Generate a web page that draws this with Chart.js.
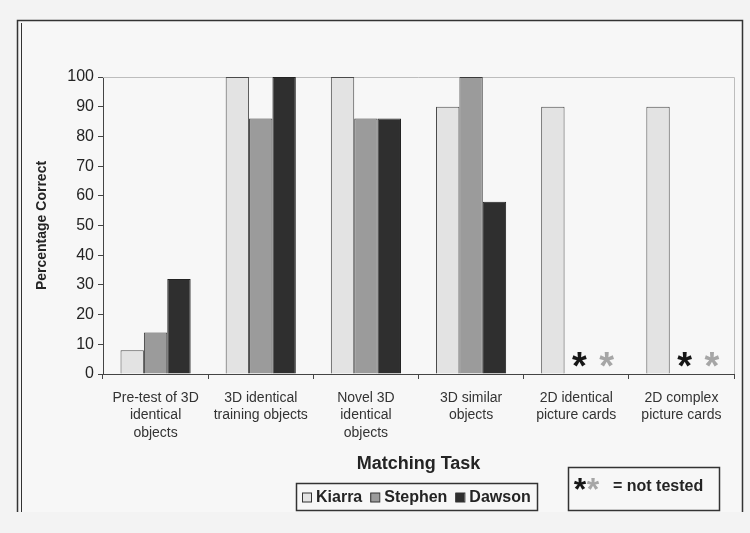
<!DOCTYPE html>
<html>
<head>
<meta charset="utf-8">
<script src="https://cdn.jsdelivr.net/npm/chart.js@4.4.1/dist/chart.umd.min.js"></script>
<style>
  html, body { margin: 0; padding: 0; background: #f3f3f3; }
  #wrap { position: relative; width: 750px; height: 533px; }
  canvas { display: block; }
</style>
</head>
<body>
<div id="wrap"><canvas id="c" width="750" height="533"></canvas></div>
<script>
// Matching tasks (multi-line category labels)
const tasks = [
  ["Pre-test of 3D", "identical", "objects"],
  ["3D identical", "training objects"],
  ["Novel 3D", "identical", "objects"],
  ["3D similar", "objects"],
  ["2D identical", "picture cards"],
  ["2D complex", "picture cards"]
];

// Percentage correct per child (null = not tested)
const kiarra  = [8, 100, 100, 90, 90, 90];
const stephen = [14, 86, 86, 100, null, null];
const dawson  = [32, 100, 86, 58, null, null];

// Tasks where Stephen and Dawson were not tested
const notTested = [false, false, false, false, true, true];

// Y axis ticks
const yTicks = [0, 10, 20, 30, 40, 50, 60, 70, 80, 90, 100];

const FONT = "Arial, 'Liberation Sans', sans-serif";
const INK = '#242424';

// page frame, plot border, asterisks and the two legend boxes
const decor = {
  id: 'decor',
  beforeDraw(chart) {
    const ctx = chart.ctx;
    ctx.save();
    ctx.fillStyle = '#f7f7f7';
    ctx.fillRect(20, 21, 721, 491);
    ctx.strokeStyle = '#333';
    ctx.lineWidth = 1.5;
    ctx.beginPath();
    ctx.moveTo(17.5, 512); ctx.lineTo(17.5, 20.5); ctx.lineTo(742.5, 20.5); ctx.lineTo(742.5, 512);
    ctx.stroke();
    ctx.lineWidth = 1;
    ctx.beginPath();
    ctx.moveTo(21.5, 512); ctx.lineTo(21.5, 23);
    ctx.stroke();
    ctx.restore();
  },
  beforeDatasetsDraw(chart) {
    const {ctx, chartArea: a} = chart;
    ctx.save();
    ctx.strokeStyle = '#bdbdbd';
    ctx.lineWidth = 1;
    ctx.beginPath();
    ctx.moveTo(a.left, a.top + 0.5); ctx.lineTo(a.right + 0.5, a.top + 0.5); ctx.lineTo(a.right + 0.5, a.bottom);
    ctx.stroke();
    ctx.restore();
  },
  afterDatasetsDraw(chart) {
    const {ctx, scales} = chart;
    const xs = scales.x, ys = scales.y;
    const cw = xs.width / tasks.length;
    ctx.save();
    ctx.font = 'bold 38px ' + FONT;
    ctx.textAlign = 'center';
    ctx.textBaseline = 'alphabetic';
    notTested.forEach((nt, i) => {
      if (!nt) return;
      const cx = xs.getPixelForValue(i);
      const y = ys.getPixelForValue(0) + 5;
      ctx.fillStyle = '#161616';
      ctx.fillText('*', cx + cw * 0.03, y);
      ctx.fillStyle = '#a6a6a6';
      ctx.fillText('*', cx + cw * 0.29, y);
    });
    ctx.restore();
  },
  afterDraw(chart) {
    const ctx = chart.ctx;
    const ds = chart.data.datasets;
    ctx.save();
    // series legend
    ctx.strokeStyle = '#333';
    ctx.lineWidth = 1.5;
    ctx.strokeRect(296.5, 483.5, 241, 27);
    ctx.font = 'bold 16px ' + FONT;
    ctx.textBaseline = 'middle';
    ctx.textAlign = 'left';
    let x = 302;
    const ly = 497.5;
    ds.forEach(d => {
      ctx.fillStyle = d.backgroundColor;
      ctx.fillRect(x, ly - 4.5, 9, 9);
      ctx.lineWidth = 1;
      ctx.strokeStyle = '#333';
      ctx.strokeRect(x + 0.5, ly - 4.5, 9, 9);
      ctx.fillStyle = INK;
      ctx.fillText(d.label, x + 14, ly);
      x += 14 + ctx.measureText(d.label).width + 8;
    });
    // not tested key
    ctx.lineWidth = 1.5;
    ctx.strokeStyle = '#333';
    ctx.strokeRect(568.5, 467.5, 151, 43);
    ctx.font = 'bold 32px ' + FONT;
    ctx.textBaseline = 'alphabetic';
    ctx.textAlign = 'center';
    ctx.fillStyle = '#161616';
    ctx.fillText('*', 580, 500);
    ctx.fillStyle = '#a6a6a6';
    ctx.fillText('*', 593, 500);
    ctx.font = 'bold 16px ' + FONT;
    ctx.textBaseline = 'middle';
    ctx.textAlign = 'left';
    ctx.fillStyle = INK;
    ctx.fillText('= not tested', 613, 487);
    ctx.restore();
  }
};

new Chart(document.getElementById('c'), {
  type: 'bar',
  data: {
    labels: tasks,
    datasets: [
      { label: 'Kiarra',  data: kiarra,  backgroundColor: '#e3e3e3', borderColor: '#4a4a4a', borderWidth: 1 },
      { label: 'Stephen', data: stephen, backgroundColor: '#9b9b9b', borderColor: '#3a3a3a', borderWidth: 1 },
      { label: 'Dawson',  data: dawson,  backgroundColor: '#2f2f2f', borderColor: '#222',    borderWidth: 1 }
    ]
  },
  options: {
    responsive: false,
    animation: false,
    events: [],
    layout: { padding: { left: 20, right: 16, top: 77, bottom: 58 } },
    datasets: { bar: { categoryPercentage: 0.667, barPercentage: 1.0 } },
    plugins: { legend: { display: false }, tooltip: { enabled: false } },
    scales: {
      x: {
        grid: { drawOnChartArea: false, drawTicks: true, tickLength: 5, color: '#444', offset: true },
        border: { color: '#444', width: 1 },
        ticks: { color: '#333', font: { family: FONT, size: 14, lineHeight: 1.25 }, padding: 10, maxRotation: 0, autoSkip: false },
        title: { display: true, text: 'Matching Task', color: INK, font: { family: FONT, size: 18, weight: 'bold' }, padding: { top: 0, bottom: 0 } },
        afterFit(s) { s.height = 101; }
      },
      y: {
        min: 0, max: 100,
        afterBuildTicks(s) { s.ticks = yTicks.map(v => ({ value: v })); },
        grid: { drawOnChartArea: false, drawTicks: true, tickLength: 5, color: '#444' },
        border: { color: '#444', width: 1 },
        ticks: { color: INK, font: { family: FONT, size: 16 }, padding: 4 },
        title: { display: true, text: 'Percentage Correct', color: INK, font: { family: FONT, size: 14, weight: 'bold' }, padding: { top: 14, bottom: 0 } },
        afterFit(s) { s.width = 83; }
      }
    }
  },
  plugins: [decor]
});
</script>
</body>
</html>
